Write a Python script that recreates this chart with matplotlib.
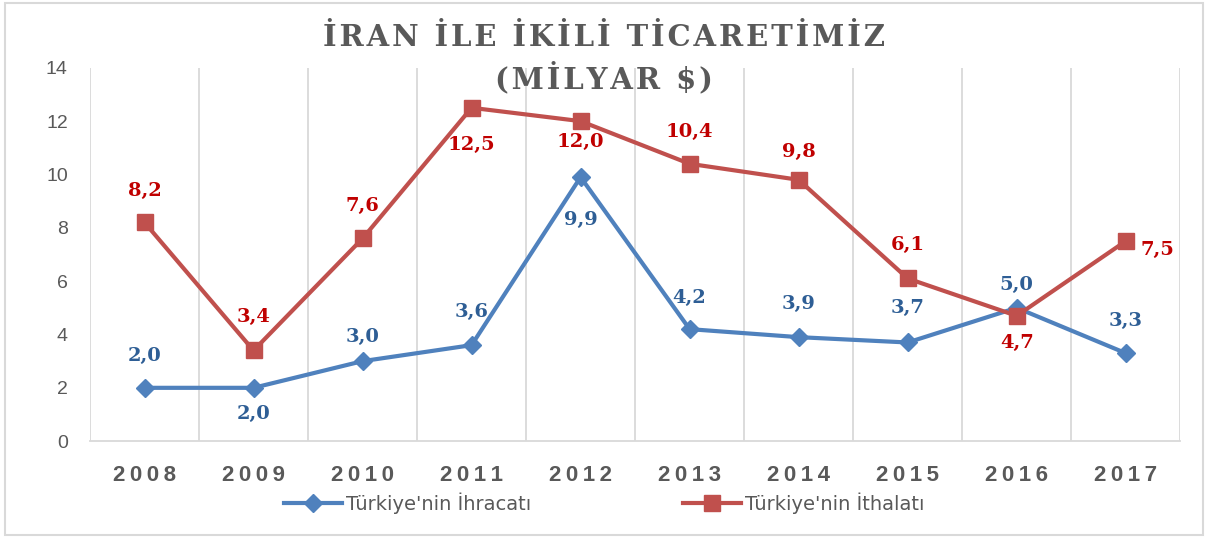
import matplotlib.pyplot as plt
from matplotlib.patches import Rectangle

years = ['2008', '2009', '2010', '2011', '2012', '2013', '2014', '2015', '2016', '2017']
ihracat = [2.0, 2.0, 3.0, 3.6, 9.9, 4.2, 3.9, 3.7, 5.0, 3.3]
ithalat = [8.2, 3.4, 7.6, 12.5, 12.0, 10.4, 9.8, 6.1, 4.7, 7.5]
# label offsets in pixels (dx, dy), positive dy = above
ihr_off = [(0, 32), (0, -26), (0, 24), (0, 33), (0, -43), (0, 31), (0, 33), (0, 34), (0, 23), (0, 32)]
ith_off = [(0, 31), (0, 33), (0, 32), (0, -37), (0, -21), (0, 32), (0, 28), (0, 33), (0, -27), (32, -9)]

blue = '#4F81BD'
red = '#C0504D'
blue_lbl = '#2E5E95'
red_lbl = '#C00000'
gray = '#595959'
grid = '#D9D9D9'

def spaced(s, sep='\u2009'):
    return sep.join(list(s))

fig = plt.figure(figsize=(12.08, 5.38), dpi=100)
fig.patches.append(Rectangle((0.004, 0.006), 0.992, 0.988, transform=fig.transFigure,
                             fill=False, edgecolor=grid, linewidth=1.5))
ax = fig.add_axes([0.0745, 0.180, 0.9025, 0.694])

x = list(range(len(years)))
ax.plot(x, ihracat, color=blue, lw=3, marker='D', ms=9, label="Türkiye'nin İhracatı", zorder=3)
ax.plot(x, ithalat, color=red, lw=3, marker='s', ms=11, label="Türkiye'nin İthalatı", zorder=3)

def fmt(v):
    return f'{v:.1f}'.replace('.', ',')

def put(vals, offs, col):
    for i, (v, (dx, dy)) in enumerate(zip(vals, offs)):
        ax.annotate(fmt(v), (i, v), xytext=(dx * 0.72, dy * 0.72), textcoords='offset points',
                    ha='center', va='center', color=col, fontsize=14, fontweight='bold',
                    family='DejaVu Serif', zorder=4)

put(ihracat, ihr_off, blue_lbl)
put(ithalat, ith_off, red_lbl)

ax.set_xlim(-0.5, len(years) - 0.5)
ax.set_ylim(0, 14)
ax.set_yticks(range(0, 15, 2))
ax.set_xticks(x)
ax.set_xticklabels([spaced(y) for y in years], fontsize=16, fontweight='bold', color=gray,
                   family='Liberation Sans')
for b in [i - 0.5 for i in range(len(years) + 1)]:
    ax.axvline(b, color=grid, lw=1.3, zorder=0)
for s in ['top', 'right', 'left']:
    ax.spines[s].set_visible(False)
ax.spines['bottom'].set_color(grid)
ax.spines['bottom'].set_linewidth(1.3)
ax.tick_params(axis='both', length=0)
ax.tick_params(axis='x', pad=17)
ax.tick_params(axis='y', pad=16, labelsize=14, labelcolor=gray)
for t in ax.get_yticklabels():
    t.set_family('Liberation Sans')

fig.text(0.5, 0.958, spaced('İRAN İLE İKİLİ TİCARETİMİZ', '\u200a'), ha='center', va='top',
         fontsize=21, fontweight='bold', color=gray, family='DejaVu Serif')
fig.text(0.5, 0.885, spaced('(MİLYAR $)', '\u200a'), ha='center', va='top',
         fontsize=21, fontweight='bold', color=gray, family='DejaVu Serif')

fig.legend(loc='lower center', bbox_to_anchor=(0.5, 0.012), ncol=2, frameon=False,
           fontsize=14, labelcolor=gray, columnspacing=7.8, handlelength=3.0, handletextpad=0.2)

fig.savefig('out.png', dpi=100)
